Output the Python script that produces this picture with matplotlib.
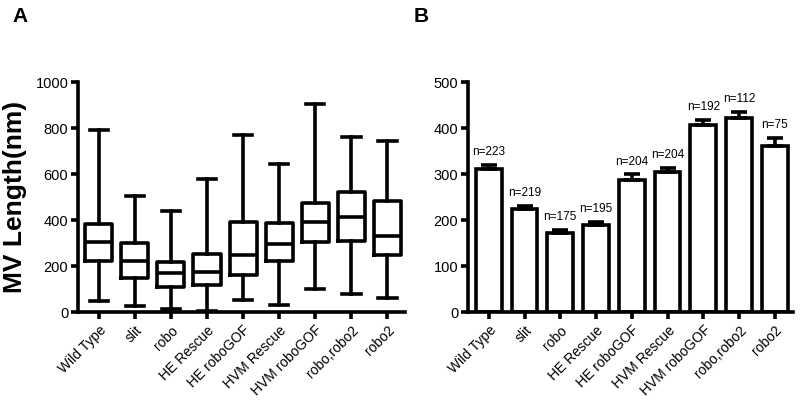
import numpy as np
import matplotlib.pyplot as plt

plt.rcParams['font.family'] = ['Liberation Sans', 'DejaVu Sans']

genotypes = ["Wild Type", "slit", "robo", "HE Rescue", "HE roboGOF",
             "HVM Rescue", "HVM roboGOF", "robo,robo2", "robo2"]

# panel A: box plot stats (min, q1, median, q3, max)
box_min = [46, 28, 13, 6, 54, 32, 100, 77, 59]
box_q1 = [223, 148, 107, 116, 159, 220, 303, 310, 246]
box_med = [304, 220, 170, 175, 249, 296, 393, 413, 329]
box_q3 = [384, 299, 217, 252, 390, 386, 475, 522, 481]
box_max = [791, 503, 441, 580, 771, 642, 904, 761, 743]

# panel B: mean + SEM and n
means = [311, 225, 172, 190, 288, 305, 407, 421, 361]
sems = [8, 6, 6, 6, 11, 8, 11, 13, 17]
counts = [223, 219, 175, 195, 204, 204, 192, 112, 75]

lw = 2.6
fig = plt.figure(figsize=(8, 4), dpi=100)
axA = fig.add_axes([0.0975, 0.22, 0.409, 0.575])
axB = fig.add_axes([0.585, 0.22, 0.406, 0.575])

x = np.arange(len(genotypes))

stats = []
for i, g in enumerate(genotypes):
    stats.append(dict(label=g, whislo=box_min[i], q1=box_q1[i], med=box_med[i],
                      q3=box_q3[i], whishi=box_max[i], fliers=[]))
axA.bxp(stats, positions=x, widths=0.75, showfliers=False,
        boxprops=dict(linewidth=lw, color='black'),
        medianprops=dict(linewidth=lw, color='black'),
        whiskerprops=dict(linewidth=lw, color='black'),
        capprops=dict(linewidth=lw, color='black'),
        capwidths=0.52)
axA.set_ylim(0, 1000)
axA.set_yticks([0, 200, 400, 600, 800, 1000])
axA.set_ylabel("MV Length(nm)", fontsize=19, fontweight='bold', labelpad=6)

axB.bar(x, means, width=0.72, color='white', edgecolor='black', linewidth=lw)
axB.errorbar(x, means, yerr=[np.zeros(len(sems)), sems], fmt='none',
             ecolor='black', elinewidth=lw, capsize=5.8, capthick=lw)
for xi, m, s, n in zip(x, means, sems, counts):
    axB.annotate(f"n={n}", (xi, m + s), xytext=(0, 5), textcoords='offset points',
                 ha='center', va='bottom', fontsize=8.5)
axB.set_ylim(0, 500)
axB.set_yticks([0, 100, 200, 300, 400, 500])

for ax in (axA, axB):
    ax.set_xlim(-0.58, 8.5)
    ax.set_xticks(x)
    ax.set_xticklabels(genotypes, rotation=45, ha='right', rotation_mode='anchor',
                       fontsize=10)
    ax.spines['top'].set_visible(False)
    ax.spines['right'].set_visible(False)
    ax.spines['left'].set_linewidth(lw)
    ax.spines['bottom'].set_linewidth(lw)
    ax.tick_params(width=lw, length=5, labelsize=10.5, pad=2)
    ax.tick_params(axis='x', labelsize=10, pad=3)

fig.text(0.015, 0.945, "A", fontsize=15, fontweight='bold')
fig.text(0.517, 0.945, "B", fontsize=15, fontweight='bold')

fig.savefig("out.png", dpi=100)
